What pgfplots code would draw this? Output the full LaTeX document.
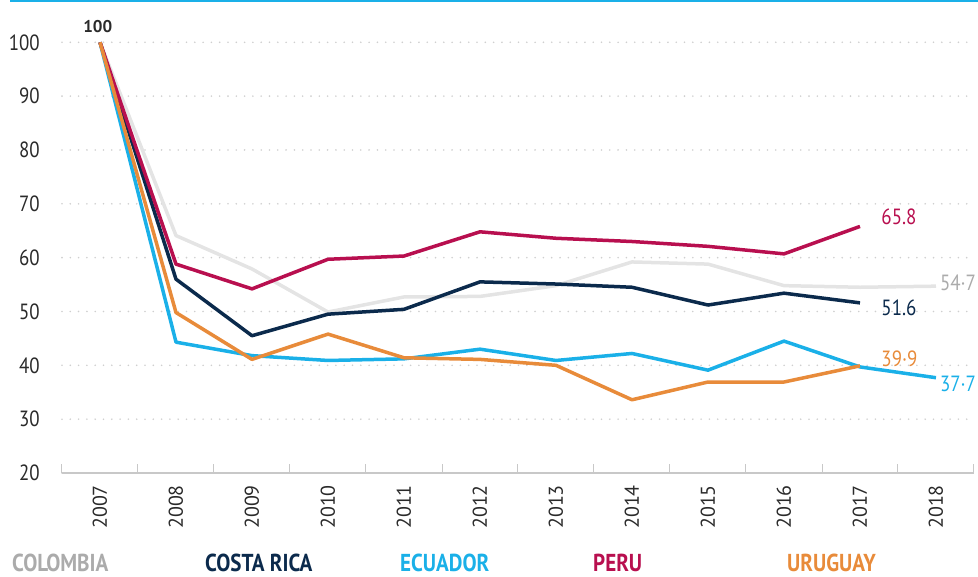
\documentclass[border=0pt]{standalone}
\usepackage{fontspec}
\setmainfont{PT Sans}
\newfontfamily\condfont{PT Sans}[FakeStretch=0.86]
\usepackage{pgfplots}
\pgfplotsset{compat=1.18}
\definecolor{colcol}{HTML}{E4E4E4}
\definecolor{colcoltxt}{HTML}{ABABAB}
\definecolor{colcr}{HTML}{0B2A4C}
\definecolor{colec}{HTML}{1AB0E8}
\definecolor{colpe}{HTML}{B80F4F}
\definecolor{colur}{HTML}{E88B3A}
\definecolor{axgray}{HTML}{C8C8C8}
\definecolor{griddot}{HTML}{CFCFCF}
\definecolor{txtdark}{HTML}{2A2A2A}
\begin{document}
\begin{tikzpicture}
\useasboundingbox (-62pt,-104pt) rectangle (916pt,473pt);
\fill[colec] (-52pt,471pt) rectangle (916pt,473pt);
\begin{axis}[
  scale only axis, width=912pt, height=430.7pt,
  xmin=2006.5, xmax=2018.5, ymin=20, ymax=100,
  clip=false,
  axis x line=bottom, axis y line=left,
  y axis line style={draw=none},
  x axis line style={axgray, line width=1.5pt, -},
  xtick={2007,...,2018},
  xticklabels={2007,2008,2009,2010,2011,2012,2013,2014,2015,2016,2017,2018},
  minor xtick={2006.5,2007.5,...,2018.5},
  major tick length=0pt, minor tick length=9pt, tick align=inside,
  minor tick style={axgray, line width=1pt},
  ytick={20,30,...,100},
  yticklabels={20,30,40,50,60,70,80,90,100},
  ymajorgrids,
  major grid style={griddot, line width=1.8pt, dash pattern=on 0pt off 8.3pt, line cap=round},
  yticklabel style={font=\condfont\fontsize{22}{22}\selectfont, text=txtdark, inner sep=0pt, xshift=-22pt},
  xticklabel style={font=\fontsize{20}{20}\selectfont, text=txtdark, rotate=90, anchor=east, inner sep=0pt},
  xticklabel shift=12pt,
  line join=round,
]
\addplot[colcol, line width=3.5pt] coordinates {
(2007,100) (2008,64.1) (2009,57.9) (2010,49.9) (2011,52.7) (2012,52.8) (2013,54.8) (2014,59.2) (2015,58.8) (2016,54.8) (2017,54.5) (2018,54.7)};
\addplot[colcr, line width=3.5pt] coordinates {
(2007,100) (2008,56.0) (2009,45.5) (2010,49.5) (2011,50.4) (2012,55.5) (2013,55.1) (2014,54.5) (2015,51.2) (2016,53.4) (2017,51.6)};
\addplot[colec, line width=3.5pt] coordinates {
(2007,100) (2008,44.3) (2009,41.8) (2010,40.9) (2011,41.2) (2012,43.0) (2013,40.9) (2014,42.2) (2015,39.1) (2016,44.5) (2017,39.7) (2018,37.7)};
\addplot[colpe, line width=3.5pt] coordinates {
(2007,100) (2008,58.8) (2009,54.2) (2010,59.7) (2011,60.3) (2012,64.8) (2013,63.6) (2014,63.0) (2015,62.1) (2016,60.7) (2017,65.8)};
\addplot[colur, line width=3.5pt] coordinates {
(2007,100) (2008,49.8) (2009,41.1) (2010,45.8) (2011,41.4) (2012,41.1) (2013,40.0) (2014,33.6) (2015,36.9) (2016,36.9) (2017,39.9)};
\node[font=\bfseries\fontsize{17}{17}\selectfont, text=txtdark] at (axis cs:2006.97,103.0) {100};
\node[anchor=west, inner sep=0pt, font=\condfont\fontsize{22}{22}\selectfont, text=colpe] at (axis cs:2017.28,67.6) {65.8};
\node[anchor=west, inner sep=0pt, font=\condfont\fontsize{22}{22}\selectfont, text=colcoltxt] at (axis cs:2018.05,55.25) {54·7};
\node[anchor=west, inner sep=0pt, font=\condfont\fontsize{22}{22}\selectfont, text=colcr] at (axis cs:2017.28,50.7) {51.6};
\node[anchor=west, inner sep=0pt, font=\condfont\fontsize{22}{22}\selectfont, text=colur] at (axis cs:2017.28,41.3) {39·9};
\node[anchor=west, inner sep=0pt, font=\condfont\fontsize{22}{22}\selectfont, text=colec] at (axis cs:2018.05,36.6) {37·7};
\end{axis}
\begin{scope}[every node/.style={anchor=west, inner sep=0pt, font=\condfont\bfseries\fontsize{24.5}{24.5}\selectfont}]
\node[text=colcoltxt] at (-50pt,-90pt) {COLOMBIA};
\node[text=colcr] at (143pt,-90pt) {COSTA RICA};
\node[text=colec] at (338pt,-90pt) {ECUADOR};
\node[text=colpe] at (531pt,-90pt) {PERU};
\node[text=colur] at (725pt,-90pt) {URUGUAY};
\end{scope}
\end{tikzpicture}
\end{document}
